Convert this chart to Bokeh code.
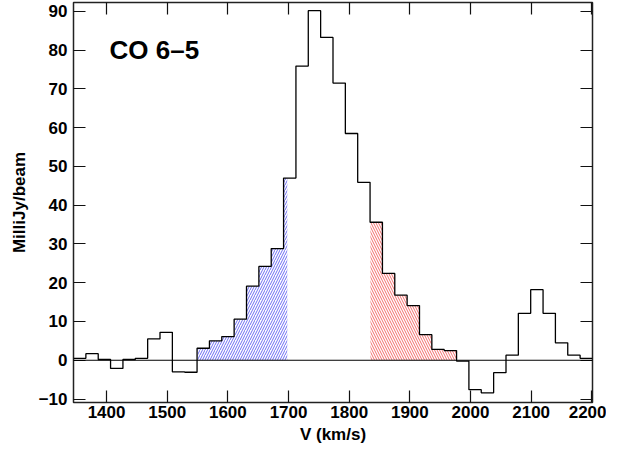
from bokeh.plotting import figure
from bokeh.models import LinearAxis, FixedTicker, Span, Range1d, Label
from bokeh.embed import file_html
from bokeh.resources import INLINE

# channel centre velocities (km/s)
velocity = [1355.7, 1376.1, 1396.4, 1416.8, 1437.2, 1457.6, 1477.9, 1498.3, 1518.7, 1539.0,
            1559.4, 1579.8, 1600.1, 1620.5, 1640.9, 1661.3, 1681.6, 1702.0, 1722.4, 1742.7,
            1763.1, 1783.5, 1803.8, 1824.2, 1844.6, 1865.0, 1885.3, 1905.7, 1926.1, 1946.4,
            1966.8, 1987.2, 2007.5, 2027.9, 2048.3, 2068.7, 2089.0, 2109.4, 2129.8, 2150.1,
            2170.5, 2190.9]
# flux density (mJy/beam)
flux = [0.5, 1.7, 0.2, -2.1, 0.2, 0.5, 5.5, 7.2, -3.0, -3.1,
        3.1, 5.0, 6.1, 10.6, 19.1, 24.2, 28.8, 47.0, 75.9, 90.2,
        83.3, 71.5, 58.5, 45.9, 35.6, 22.4, 16.8, 14.1, 6.6, 2.8,
        2.5, -0.2, -7.6, -8.4, -3.2, 1.3, 12.1, 18.2, 12.1, 4.5,
        1.3, 0.5]
blue_range = [1550.0, 1698.0]
red_range = [1835.0, 1977.5]
x_ticks = [1400, 1500, 1600, 1700, 1800, 1900, 2000, 2100, 2200]
y_ticks = [-10, 0, 10, 20, 30, 40, 50, 60, 70, 80, 90]
title_text = "CO 6\u20135"
x_label = "V (km/s)"
y_label = "MilliJy/beam"

# bin edges from centres
n = len(velocity)
mids = [(velocity[i] + velocity[i + 1]) / 2 for i in range(n - 1)]
edges = [velocity[0] - (mids[0] - velocity[0])] + mids + [velocity[-1] + (velocity[-1] - mids[-1])]

step_x, step_y = [], []
for i in range(n):
    step_x += [edges[i], edges[i + 1]]
    step_y += [flux[i], flux[i]]


def hatch_poly(rng):
    a, b = rng
    xs, ys = [a], [0.0]
    for i in range(n):
        lo, hi = max(edges[i], a), min(edges[i + 1], b)
        if hi > lo:
            xs += [lo, hi]
            ys += [flux[i], flux[i]]
    xs.append(b)
    ys.append(0.0)
    return xs, ys


FONT = "Liberation Sans"

p = figure(width=606, height=446, output_backend="svg", toolbar_location=None,
           x_range=Range1d(edges[0], edges[-1]), y_range=Range1d(-10.9, 92.3),
           x_axis_location=None, y_axis_location=None,
           min_border_left=73, min_border_right=14, min_border_top=2, min_border_bottom=0)
p.grid.visible = False
p.background_fill_color = "white"
p.border_fill_color = "white"
p.outline_line_color = "#222222"
p.outline_line_width = 1.5


def style_axis(ax, ticks, labels=True):
    ax.ticker = FixedTicker(ticks=ticks)
    ax.axis_line_color = None
    ax.major_tick_in = 12
    ax.major_tick_out = 0
    ax.minor_tick_line_color = None
    ax.major_tick_line_color = "#111111"
    ax.major_tick_line_width = 1.2
    ax.major_label_text_font = FONT
    ax.major_label_text_font_style = "bold"
    if labels:
        ax.major_label_text_font_size = "17px"
        ax.major_label_text_color = "black"
    else:
        ax.major_label_text_font_size = "1px"
        ax.major_label_text_color = None
        ax.major_label_standoff = 0
    ax.axis_label_text_font = FONT
    ax.axis_label_text_font_style = "bold"
    ax.axis_label_text_font_size = "17px"
    ax.axis_label_text_color = "black"


bottom = LinearAxis(axis_label=x_label)
top = LinearAxis()
left = LinearAxis(axis_label=y_label)
right = LinearAxis()
style_axis(bottom, x_ticks)
style_axis(top, x_ticks, labels=False)
style_axis(left, y_ticks)
style_axis(right, y_ticks, labels=False)
bottom.major_label_standoff = 3
bottom.axis_label_standoff = 4
left.major_label_standoff = 6
left.axis_label_standoff = 7
p.add_layout(bottom, "below")
p.add_layout(top, "above")
p.add_layout(left, "left")
p.add_layout(right, "right")

bx, by = hatch_poly(blue_range)
rx, ry = hatch_poly(red_range)
p.patch(bx, by, fill_alpha=0, line_alpha=0, hatch_pattern="right_diagonal_line",
        hatch_color="#3333ee", hatch_scale=5, hatch_weight=0.8, hatch_alpha=0.9)
p.patch(rx, ry, fill_alpha=0, line_alpha=0, hatch_pattern="left_diagonal_line",
        hatch_color="#ee3333", hatch_scale=5, hatch_weight=0.8, hatch_alpha=0.9)

p.add_layout(Span(location=0, dimension="width", line_color="black", line_width=1))
p.line(step_x, step_y, line_color="black", line_width=1.3)

p.add_layout(Label(x=1405, y=80, text=title_text, text_font=FONT, text_font_style="bold",
                   text_font_size="26px", text_color="black", text_baseline="alphabetic"))

open("out.html", "w").write(file_html(p, INLINE))
